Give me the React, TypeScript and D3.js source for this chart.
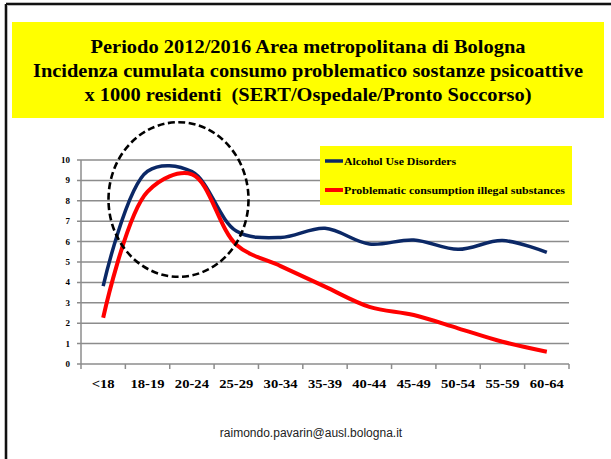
import React from "react";
import * as d3 from "d3";

const categories = ["<18", "18-19", "20-24", "25-29", "30-34", "35-39", "40-44", "45-49", "50-54", "55-59", "60-64"];
const alcoholValues = [3.82, 9.45, 9.43, 6.52, 6.2, 6.65, 5.88, 6.08, 5.62, 6.05, 5.47];
const illegalValues = [2.27, 8.45, 9.3, 5.85, 4.8, 3.79, 2.8, 2.4, 1.75, 1.09, 0.6];
const yTicks = [0, 1, 2, 3, 4, 5, 6, 7, 8, 9, 10];
const titleLines = [
  "Periodo 2012/2016 Area metropolitana di Bologna",
  "Incidenza cumulata consumo problematico sostanze psicoattive",
  "x 1000 residenti  (SERT/Ospedale/Pronto Soccorso)",
];
const titleWidths = [435, 550, 447];
const seriesNames = ["Alcohol Use Disorders", "Problematic consumption illegal substances"];
const legendWidths = [112, 221];
const footer = "raimondo.pavarin@ausl.bologna.it";

const W = 611;
const H = 459;
const plot = { left: 81, right: 569, top: 160, bottom: 364 };
const BLUE = "#0b2866";
const RED = "#ff0000";
const GRID = "#8c8c8c";
const SERIF = "'Liberation Serif', 'Times New Roman', serif";

export default function App() {
  const x = d3.scaleBand<string>().domain(categories).range([plot.left, plot.right]).padding(0);
  const y = d3.scaleLinear().domain([0, 10]).range([plot.bottom, plot.top]);
  const cx = (c: string) => (x(c) ?? 0) + x.bandwidth() / 2;

  const line = d3
    .line<number>()
    .x((_, i) => cx(categories[i]))
    .y((v) => y(v))
    .curve(d3.curveCatmullRom.alpha(0.5));

  const boundaries = categories.map((c) => x(c) ?? 0).concat([plot.right]);

  return (
    <svg width={W} height={H} style={{ position: "absolute", left: 0, top: 0, background: "#fff" }}>
      {/* frame */}
      <line x1={6} y1={4} x2={W} y2={4} stroke="#bbb" strokeWidth={4} />
      <line x1={6} y1={4} x2={6} y2={H} stroke="#bbb" strokeWidth={4} />
      <line x1={6} y1={4} x2={W} y2={4} stroke="#111" strokeWidth={2} />
      <line x1={6} y1={4} x2={6} y2={H} stroke="#111" strokeWidth={2} />

      {/* title */}
      <rect x={12} y={22} width={592} height={96} fill="#ffff00" />
      {titleLines.map((t, i) => (
        <text
          key={i}
          x={308}
          y={53 + i * 24}
          textAnchor="middle"
          fontFamily={SERIF}
          fontWeight="bold"
          fontSize={19}
          textLength={titleWidths[i]}
          lengthAdjust="spacingAndGlyphs"
          fill="#000"
          style={{ whiteSpace: "pre" }}
        >
          {t}
        </text>
      ))}

      {/* gridlines */}
      {yTicks.map((t) => (
        <g key={t}>
          <line x1={plot.left - 4} x2={plot.right} y1={y(t)} y2={y(t)} stroke={GRID} strokeWidth={1.5} />
          <text
            x={70}
            y={y(t) + 3}
            textAnchor="end"
            fontFamily={SERIF}
            fontWeight="bold"
            fontSize={9}
            fill="#000"
          >
            {t}
          </text>
        </g>
      ))}
      <line x1={plot.left} x2={plot.left} y1={plot.top} y2={plot.bottom} stroke={GRID} strokeWidth={1.5} />
      {boundaries.map((b, i) => (
        <line key={i} x1={b} x2={b} y1={plot.bottom} y2={plot.bottom + 5} stroke={GRID} strokeWidth={1.5} />
      ))}
      {categories.map((c) => (
        <text
          key={c}
          transform={`translate(${cx(c)},388) scale(1.17,1)`}
          textAnchor="middle"
          fontFamily={SERIF}
          fontWeight="bold"
          fontSize={12.5}
          fill="#000"
        >
          {c}
        </text>
      ))}

      {/* legend */}
      <rect x={320} y={146} width={252} height={59} fill="#ffff00" />
      {seriesNames.map((n, i) => (
        <g key={n}>
          <line
            x1={325}
            x2={343}
            y1={161 + i * 29}
            y2={161 + i * 29}
            stroke={i === 0 ? BLUE : RED}
            strokeWidth={i === 0 ? 3.5 : 4}
          />
          <text
            x={344}
            y={164.5 + i * 29}
            fontFamily={SERIF}
            fontWeight="bold"
            fontSize={10.5}
            textLength={legendWidths[i]}
            lengthAdjust="spacingAndGlyphs"
            fill="#000"
          >
            {n}
          </text>
        </g>
      ))}

      {/* series */}
      <path d={line(alcoholValues) ?? ""} fill="none" stroke={BLUE} strokeWidth={3.5} strokeLinejoin="round" />
      <path d={line(illegalValues) ?? ""} fill="none" stroke={RED} strokeWidth={4} strokeLinejoin="round" />

      {/* highlight ellipse */}
      <ellipse cx={178.5} cy={199.5} rx={70} ry={77.3} fill="none" stroke="#000" strokeWidth={2.6} strokeDasharray="7 3.5" />

      {/* footer */}
      <text
        x={311}
        y={437}
        textAnchor="middle"
        fontFamily="'Liberation Sans', Arial, sans-serif"
        fontSize={12}
        fill="#222"
      >
        {footer}
      </text>
    </svg>
  );
}
